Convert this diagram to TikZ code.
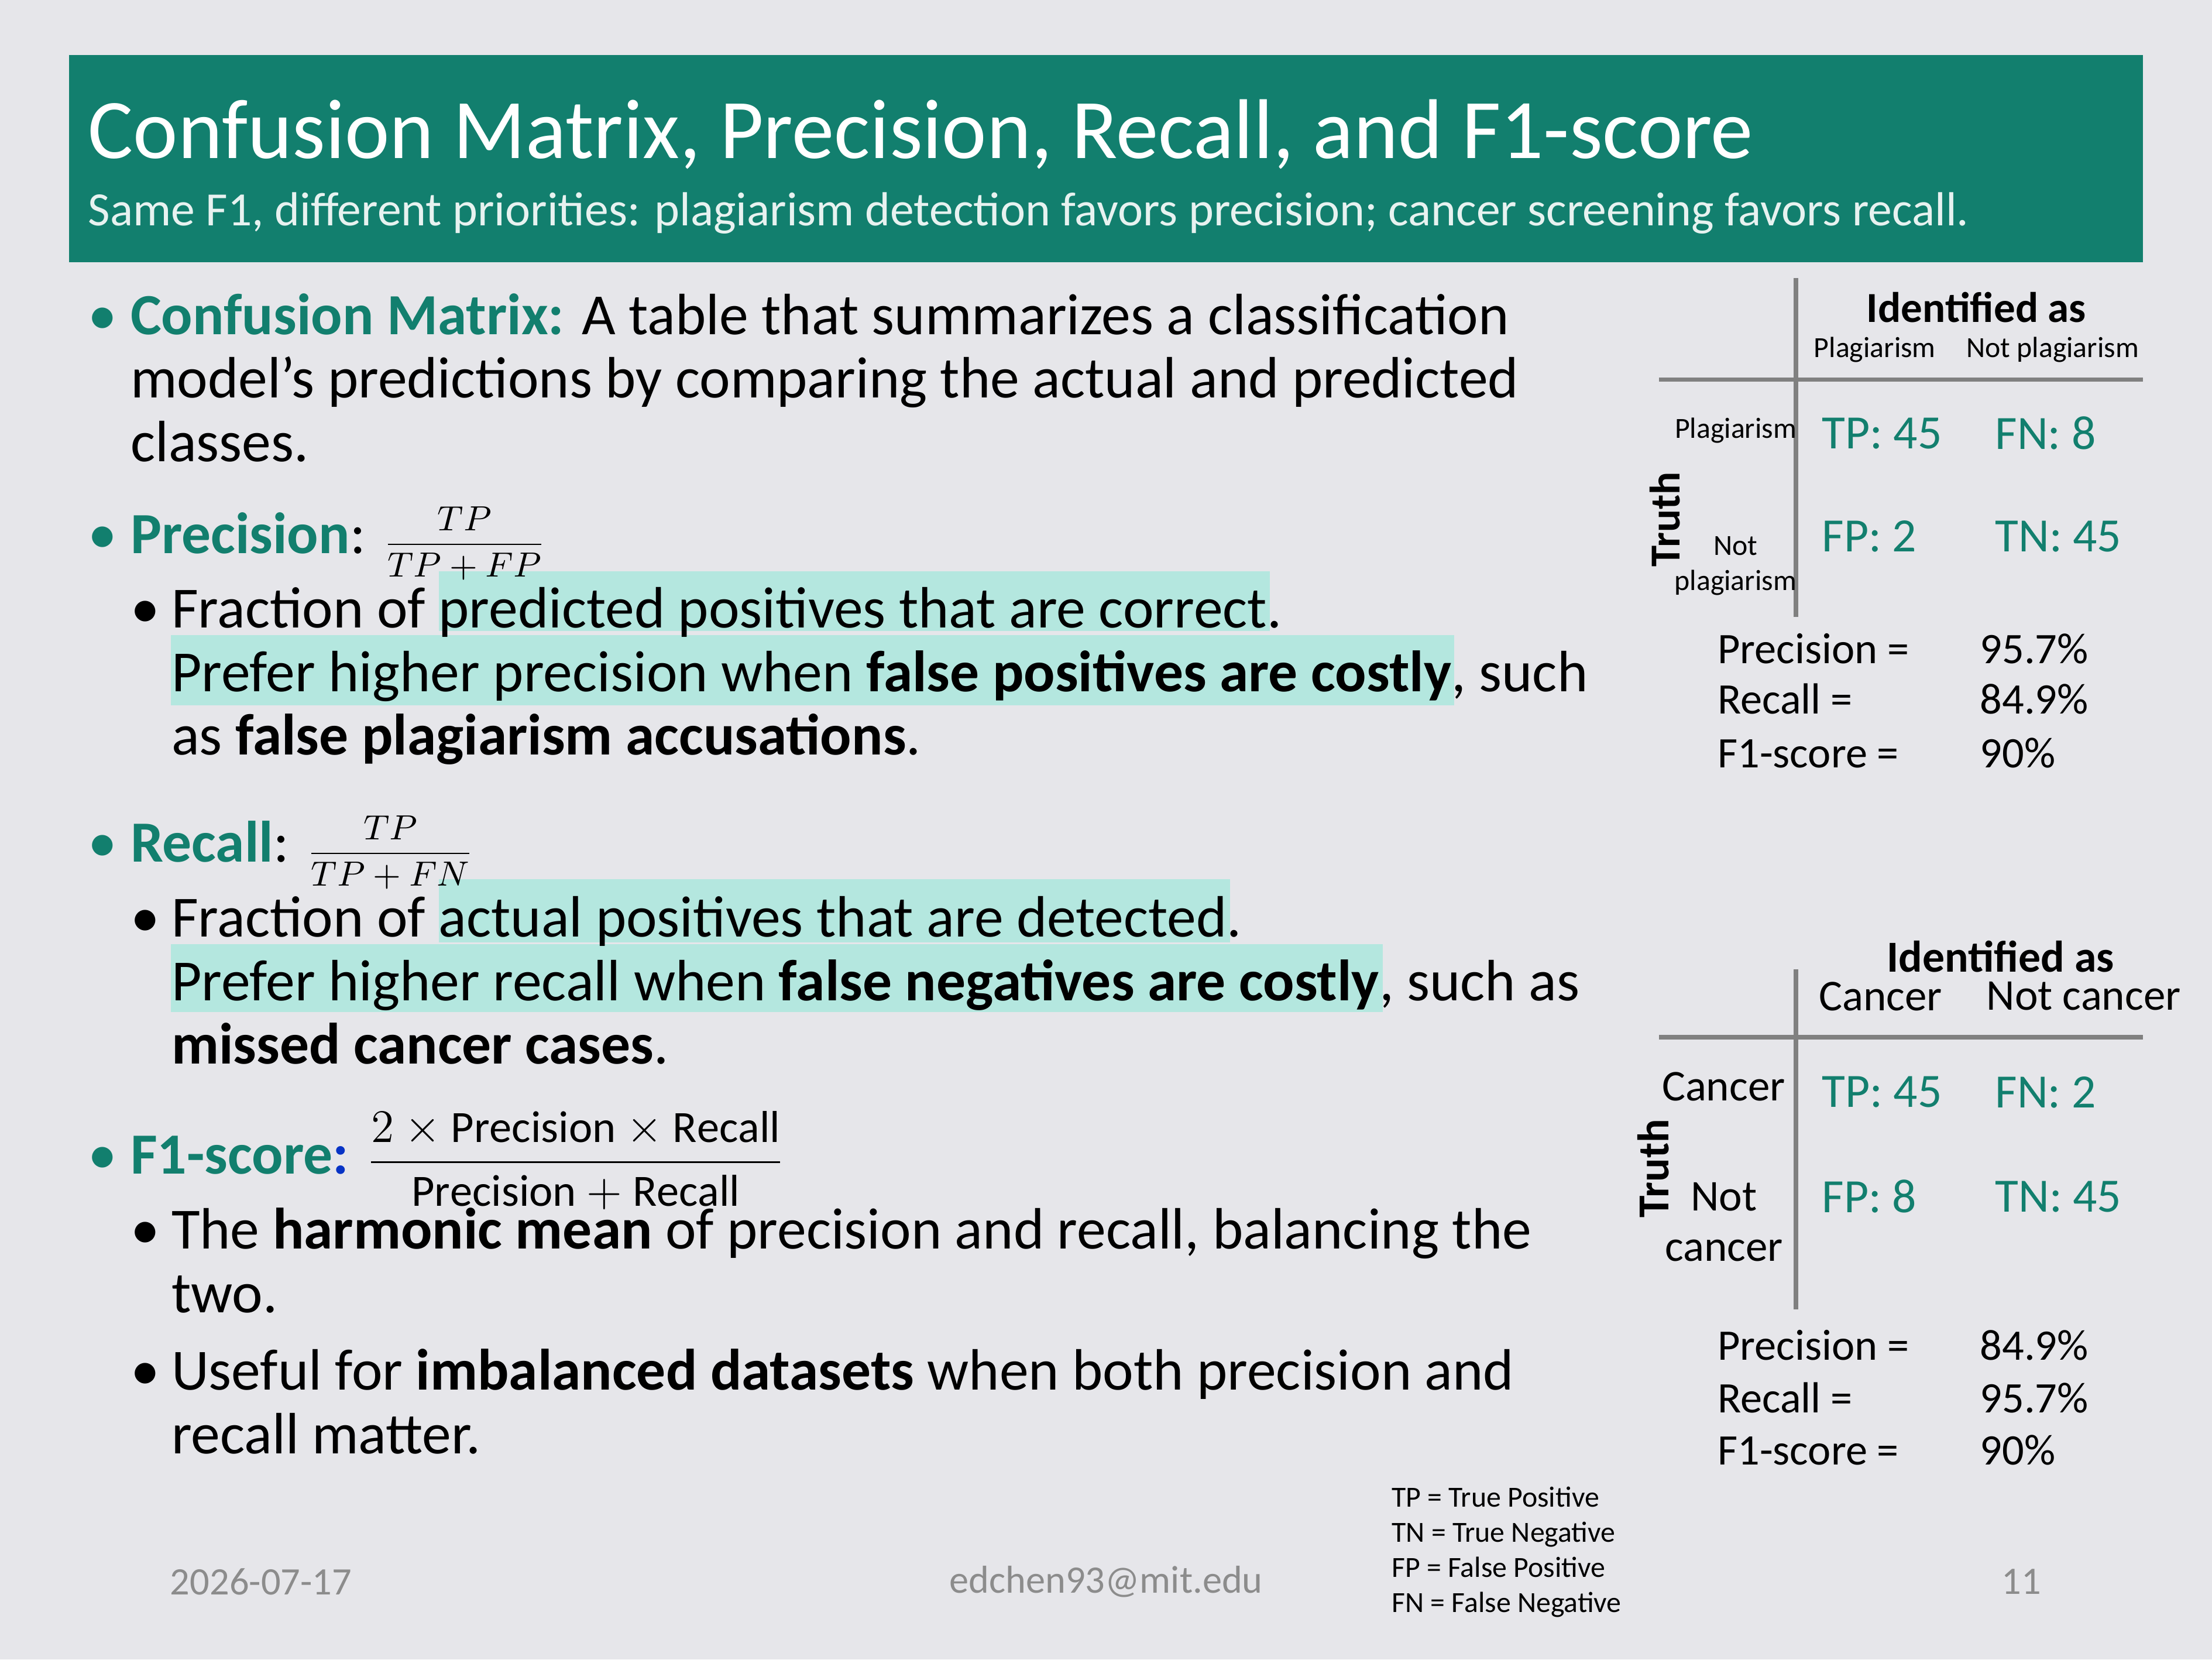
\documentclass[tikz,border=0pt]{standalone}
\usepackage{fontspec}
\setmainfont{Carlito}
\usepackage{amsmath}
\definecolor{slidebg}{HTML}{E6E6EA}
\definecolor{teal}{HTML}{127F6E}
\definecolor{mark}{HTML}{B4E7DF}
\definecolor{foot}{HTML}{8C8C8C}
\definecolor{rule}{HTML}{808080}
\tikzset{
  body/.style={anchor=base west, inner sep=0pt, font=\fontsize{15}{18}\selectfont},
  cell/.style={inner sep=0pt, text=teal, font=\fontsize{12.3}{15}\selectfont},
  small/.style={inner sep=0pt, font=\fontsize{7.5}{9}\selectfont},
  mid/.style={inner sep=0pt, font=\fontsize{11.3}{13}\selectfont},
  metric/.style={anchor=base west, inner sep=0pt, font=\fontsize{11.2}{13}\selectfont},
  hl/.style={fill=mark, draw=none},
  grid line/.style={draw=rule, line width=1.2pt}
}
\newcommand{\tl}[1]{\textcolor{teal}{\textbf{#1}}}
\newcommand{\fr}[3]{{\fontsize{#1}{#1}\selectfont$\dfrac{#2}{#3}$}}
\begin{document}
\begin{tikzpicture}[x=0.012755cm, y=-0.012755cm]
\useasboundingbox (0,0) rectangle (1568,1176);
\fill[slidebg] (0,0) rectangle (1568,1176);
% title bar
\fill[teal] (49,39) rectangle (1519,186);
\node (title) [anchor=base west, inner sep=0pt, text=white, font=\fontsize{21.8}{26}\selectfont] at (62,112) {Confusion Matrix, Precision, Recall, and F1-score};
\node (subtitle) [anchor=base west, inner sep=0pt, text=white!90!teal, font=\fontsize{12.3}{15}\selectfont] at (62,160) {Same F1, different priorities: plagiarism detection favors precision; cancer screening favors recall.};

% highlights
\fill[hl] (311,405) rectangle (900,447);
\fill[hl] (121,450) rectangle (1031,500);
\fill[hl] (311,623) rectangle (872,668);
\fill[hl] (121,669) rectangle (980,717);

% confusion matrix
\node (b1) [body, text=teal] at (62,237) {•};
\node (cm1) [body] at (92,237) {\tl{Confusion Matrix:} A table that summarizes a classification};
\node (cm2) [body] at (92,282) {model’s predictions by comparing the actual and predicted};
\node (cm3) [body] at (92,327) {classes.};

% precision
\node (b2) [body, text=teal] at (62,392) {•};
\node (prec) [body] at (92,392) {\tl{Precision}: \fr{9}{TP}{TP+FP}};
\node (s1) [body] at (92,445) {•};
\node (p1) [body] at (121,445) {Fraction of predicted positives that are correct.};
\node (p2) [body] at (121,490) {Prefer higher precision when \textbf{false positives are costly}, such};
\node (p3) [body] at (121,535) {as \textbf{false plagiarism accusations}.};

% recall
\node (b3) [body, text=teal] at (62,611) {•};
\node (rec) [body] at (92,611) {\tl{Recall}: \fr{9}{TP}{TP+FN}};
\node (s2) [body] at (92,664) {•};
\node (r1) [body] at (121,664) {Fraction of actual positives that are detected.};
\node (r2) [body] at (121,709) {Prefer higher recall when \textbf{false negatives are costly}, such as};
\node (r3) [body] at (121,754) {\textbf{missed cancer cases}.};

% f1
\node (b4) [body, text=teal] at (62,832) {•};
\node (f1) [body] at (92,832) {\tl{F1-score}\textcolor{blue!60!teal}{\textbf{:}} \fr{11.5}{2\times\mathrm{Precision}\times\mathrm{Recall}}{\mathrm{Precision}+\mathrm{Recall}}};
\node (s3) [body] at (92,885) {•};
\node (f11) [body] at (121,885) {The \textbf{harmonic mean} of precision and recall, balancing the};
\node (f12) [body] at (121,930) {two.};
\node (s4) [body] at (92,985) {•};
\node (f13) [body] at (121,985) {Useful for \textbf{imbalanced datasets} when both precision and};
\node (f14) [body] at (121,1030) {recall matter.};

% plagiarism table
\draw[grid line] (1273,197) -- (1273,437);
\draw[grid line] (1176,269) -- (1519,269);
\node (id1) [inner sep=0pt, font=\fontsize{11}{13}\selectfont\bfseries] at (1401,218) {Identified as};
\node (c1a) [small] at (1329,248) {Plagiarism};
\node (c1b) [small] at (1455,248) {Not plagiarism};
\node (r1a) [small, anchor=east] at (1274,305) {Plagiarism};
\node (r1b) [small, align=center, anchor=east] at (1274,401) {Not\\plagiarism};
\node (t1) [inner sep=0pt, rotate=90, font=\fontsize{11}{13}\selectfont\bfseries] at (1180,368) {Truth};
\node (tp1) [cell] at (1334,307) {TP: 45};
\node (fn1) [cell] at (1450,307) {FN: 8};
\node (fp1) [cell] at (1325,380) {FP: 2};
\node (tn1) [cell] at (1459,380) {TN: 45};
\node (pa) [metric] at (1217,470) {Precision =};
\node (pv) [metric] at (1403,470) {95.7\%};
\node (ra) [metric] at (1217,506) {Recall =};
\node (rv) [metric] at (1403,506) {84.9\%};
\node (fa) [metric] at (1217,544) {F1-score =};
\node (fv) [metric] at (1403,544) {90\%};

% cancer table
\draw[grid line] (1273,687) -- (1273,928);
\draw[grid line] (1176,735) -- (1519,735);
\node (id2) [mid, font=\fontsize{11.4}{13}\selectfont\bfseries] at (1418,678) {Identified as};
\node (c2a) [mid] at (1333,706) {Cancer};
\node (c2b) [mid] at (1477,706) {Not cancer};
\node (r2a) [mid, anchor=east] at (1266,770) {Cancer};
\node (r2b) [mid, align=center] at (1222,866) {Not\\cancer};
\node (t2) [inner sep=0pt, rotate=90, font=\fontsize{11.4}{13}\selectfont\bfseries] at (1172,828) {Truth};
\node (tp2) [cell] at (1334,774) {TP: 45};
\node (fn2) [cell] at (1450,774) {FN: 2};
\node (fp2) [cell] at (1325,848) {FP: 8};
\node (tn2) [cell] at (1459,848) {TN: 45};
\node (pb) [metric] at (1217,964) {Precision =};
\node (pw) [metric] at (1403,964) {84.9\%};
\node (rb) [metric] at (1217,1001) {Recall =};
\node (rw) [metric] at (1403,1001) {95.7\%};
\node (fb) [metric] at (1217,1038) {F1-score =};
\node (fw) [metric] at (1403,1038) {90\%};

% legend and footer
\node (leg) [small, anchor=north west, align=left, font=\fontsize{7.5}{9.05}\selectfont] at (986,1053) {TP = True Positive\\TN = True Negative\\FP = False Positive\\FN = False Negative};
\node (date) [inner sep=0pt, text=foot, font=\fontsize{10}{12}\selectfont] at (185,1121) {2026-07-17};
\node (mail) [inner sep=0pt, text=foot, font=\fontsize{10}{12}\selectfont] at (784,1121) {edchen93@mit.edu};
\node (page) [inner sep=0pt, text=foot, font=\fontsize{10}{12}\selectfont] at (1433,1121) {11};
\end{tikzpicture}
\end{document}
